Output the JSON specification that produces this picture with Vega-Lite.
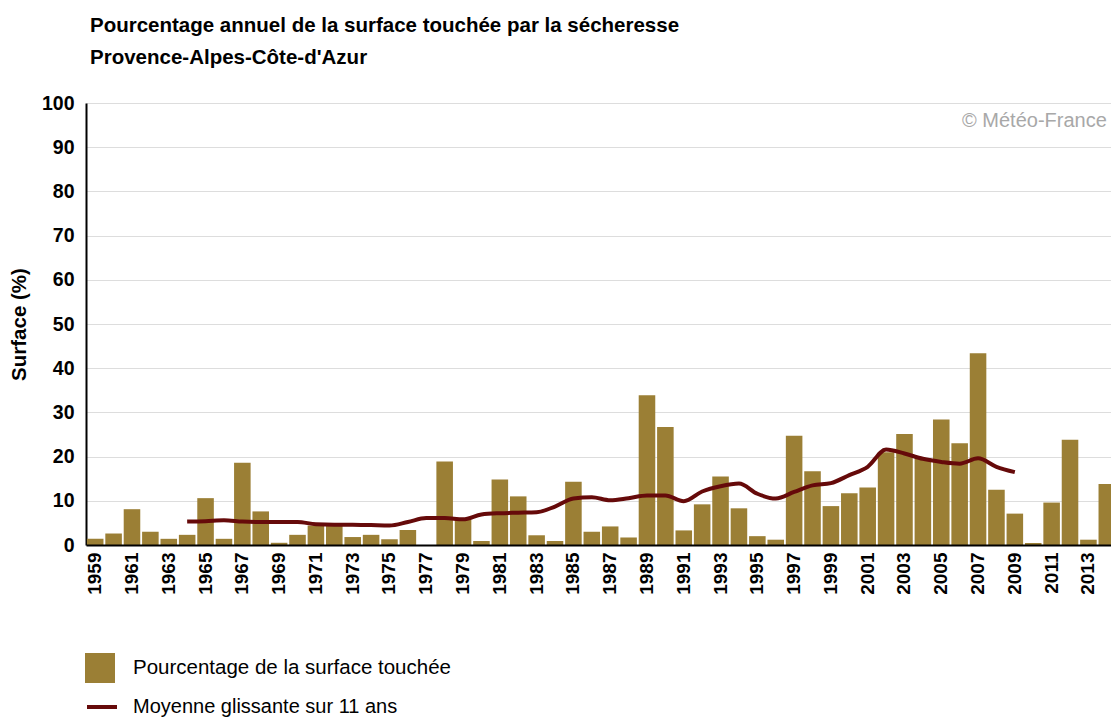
{
  "$schema": "https://vega.github.io/schema/vega-lite/v6.json",
  "width": 1025,
  "height": 442,
  "autosize": {"type": "none"},
  "padding": {"left": 86, "top": 103, "right": 0, "bottom": 172},
  "background": "white",
  "title": {
    "text": "Pourcentage annuel de la surface touchée par la sécheresse",
    "subtitle": "Provence-Alpes-Côte-d'Azur",
    "anchor": "start",
    "frame": "group",
    "dx": 4,
    "offset": 25,
    "font": "Liberation Sans",
    "fontSize": 20.5,
    "fontWeight": "bold",
    "color": "#000000",
    "subtitleFont": "Liberation Sans",
    "subtitleFontSize": 20.5,
    "subtitleFontWeight": "bold",
    "subtitleColor": "#000000",
    "subtitlePadding": 11
  },
  "config": {
    "view": {"stroke": null},
    "font": "Liberation Sans"
  },
  "data": {
    "values": [
      {"year": 1959, "pct": 1.4, "avg": null},
      {"year": 1960, "pct": 2.6, "avg": null},
      {"year": 1961, "pct": 8.1, "avg": null},
      {"year": 1962, "pct": 3.0, "avg": null},
      {"year": 1963, "pct": 1.4, "avg": null},
      {"year": 1964, "pct": 2.3, "avg": 5.3},
      {"year": 1965, "pct": 10.6, "avg": 5.4},
      {"year": 1966, "pct": 1.4, "avg": 5.6},
      {"year": 1967, "pct": 18.6, "avg": 5.3},
      {"year": 1968, "pct": 7.6, "avg": 5.2},
      {"year": 1969, "pct": 0.5, "avg": 5.2},
      {"year": 1970, "pct": 2.3, "avg": 5.2},
      {"year": 1971, "pct": 4.4, "avg": 4.7},
      {"year": 1972, "pct": 4.4, "avg": 4.6},
      {"year": 1973, "pct": 1.8, "avg": 4.6},
      {"year": 1974, "pct": 2.3, "avg": 4.5},
      {"year": 1975, "pct": 1.3, "avg": 4.4},
      {"year": 1976, "pct": 3.4, "avg": 5.2},
      {"year": 1977, "pct": 0, "avg": 6.1},
      {"year": 1978, "pct": 18.9, "avg": 6.1},
      {"year": 1979, "pct": 5.8, "avg": 5.8},
      {"year": 1980, "pct": 0.9, "avg": 6.9},
      {"year": 1981, "pct": 14.8, "avg": 7.2},
      {"year": 1982, "pct": 11.0, "avg": 7.3},
      {"year": 1983, "pct": 2.2, "avg": 7.4},
      {"year": 1984, "pct": 0.9, "avg": 8.7},
      {"year": 1985, "pct": 14.3, "avg": 10.5},
      {"year": 1986, "pct": 3.0, "avg": 10.8},
      {"year": 1987, "pct": 4.2, "avg": 10.1},
      {"year": 1988, "pct": 1.7, "avg": 10.6},
      {"year": 1989, "pct": 33.9, "avg": 11.2},
      {"year": 1990, "pct": 26.7, "avg": 11.2},
      {"year": 1991, "pct": 3.3, "avg": 9.9},
      {"year": 1992, "pct": 9.2, "avg": 12.1},
      {"year": 1993, "pct": 15.5, "avg": 13.3},
      {"year": 1994, "pct": 8.3, "avg": 13.9},
      {"year": 1995, "pct": 2.0, "avg": 11.6},
      {"year": 1996, "pct": 1.2, "avg": 10.5},
      {"year": 1997, "pct": 24.7, "avg": 12.0},
      {"year": 1998, "pct": 16.7, "avg": 13.5},
      {"year": 1999, "pct": 8.8, "avg": 14.0},
      {"year": 2000, "pct": 11.7, "avg": 15.8},
      {"year": 2001, "pct": 13.0, "avg": 17.7},
      {"year": 2002, "pct": 21.0, "avg": 21.6},
      {"year": 2003, "pct": 25.1, "avg": 20.7},
      {"year": 2004, "pct": 19.6, "avg": 19.5},
      {"year": 2005, "pct": 28.4, "avg": 18.8},
      {"year": 2006, "pct": 23.0, "avg": 18.4},
      {"year": 2007, "pct": 43.4, "avg": 19.6},
      {"year": 2008, "pct": 12.5, "avg": 17.7},
      {"year": 2009, "pct": 7.1, "avg": 16.5},
      {"year": 2010, "pct": 0.45, "avg": null},
      {"year": 2011, "pct": 9.6, "avg": null},
      {"year": 2012, "pct": 23.8, "avg": null},
      {"year": 2013, "pct": 1.2, "avg": null},
      {"year": 2014, "pct": 13.8, "avg": null}
    ]
  },
  "encoding": {
    "x": {
      "field": "year",
      "type": "ordinal",
      "scale": {"range": [0, 1030], "paddingInner": 0.1, "paddingOuter": 0.05},
      "axis": {
        "title": null,
        "labelAngle": -90,
        "labelExpr": "datum.value % 2 == 1 ? datum.value : ''",
        "labelFont": "Liberation Sans",
        "labelFontSize": 19,
        "labelFontWeight": "bold",
        "labelColor": "#000000",
        "labelPadding": 7,
        "ticks": false,
        "domainColor": "#000000",
        "domainWidth": 2,
        "grid": false,
        "zindex": 1
      }
    }
  },
  "layer": [
    {
      "mark": {"type": "bar", "clip": true},
      "encoding": {
        "y": {
          "field": "pct",
          "type": "quantitative",
          "title": "Surface (%)",
          "scale": {"domain": [0, 100]},
          "axis": {
            "values": [0, 10, 20, 30, 40, 50, 60, 70, 80, 90, 100],
            "grid": true,
            "gridColor": "#dddddd",
            "gridWidth": 1,
            "domainColor": "#000000",
            "domainWidth": 2,
            "ticks": false,
            "labelPadding": 12,
            "labelFont": "Liberation Sans",
            "labelFontSize": 19.5,
            "labelFontWeight": "bold",
            "labelColor": "#000000",
            "titleFont": "Liberation Sans",
            "titleFontSize": 20.5,
            "titleFontWeight": "bold",
            "titleColor": "#000000",
            "titlePadding": 12
          }
        },
        "fill": {
          "datum": "Pourcentage de la surface touchée",
          "scale": {"range": ["#9B7F35"]},
          "legend": {
            "orient": "none",
            "legendX": -1,
            "legendY": 550,
            "title": null,
            "padding": 0,
            "symbolType": "square",
            "symbolSize": 900,
            "symbolStrokeWidth": 0,
            "labelFont": "Liberation Sans",
            "labelFontSize": 20.5,
            "labelColor": "#000000",
            "labelOffset": 18,
            "labelLimit": 0
          }
        }
      }
    },
    {
      "transform": [{"filter": "datum.avg != null"}],
      "mark": {"type": "line", "strokeWidth": 4, "interpolate": "monotone"},
      "encoding": {
        "y": {"field": "avg", "type": "quantitative", "title": "Surface (%)"},
        "stroke": {
          "datum": "Moyenne glissante sur 11 ans",
          "scale": {"range": ["#660A0A"]},
          "legend": {
            "orient": "none",
            "legendX": -1,
            "legendY": 587,
            "title": null,
            "padding": 0,
            "symbolType": "stroke",
            "symbolSize": 900,
            "symbolStrokeWidth": 4,
            "labelFont": "Liberation Sans",
            "labelFontSize": 20,
            "labelColor": "#000000",
            "labelOffset": 14,
            "labelLimit": 0
          }
        }
      }
    },
    {
      "data": {"values": [{"year": 2014, "label": "© Météo-France", "v": 96}]},
      "mark": {"type": "text", "align": "right", "baseline": "middle", "fontSize": 20, "font": "Liberation Sans", "color": "#a8a8a8"},
      "encoding": {
        "y": {"field": "v", "type": "quantitative", "title": "Surface (%)"},
        "text": {"field": "label"}
      }
    }
  ]
}
